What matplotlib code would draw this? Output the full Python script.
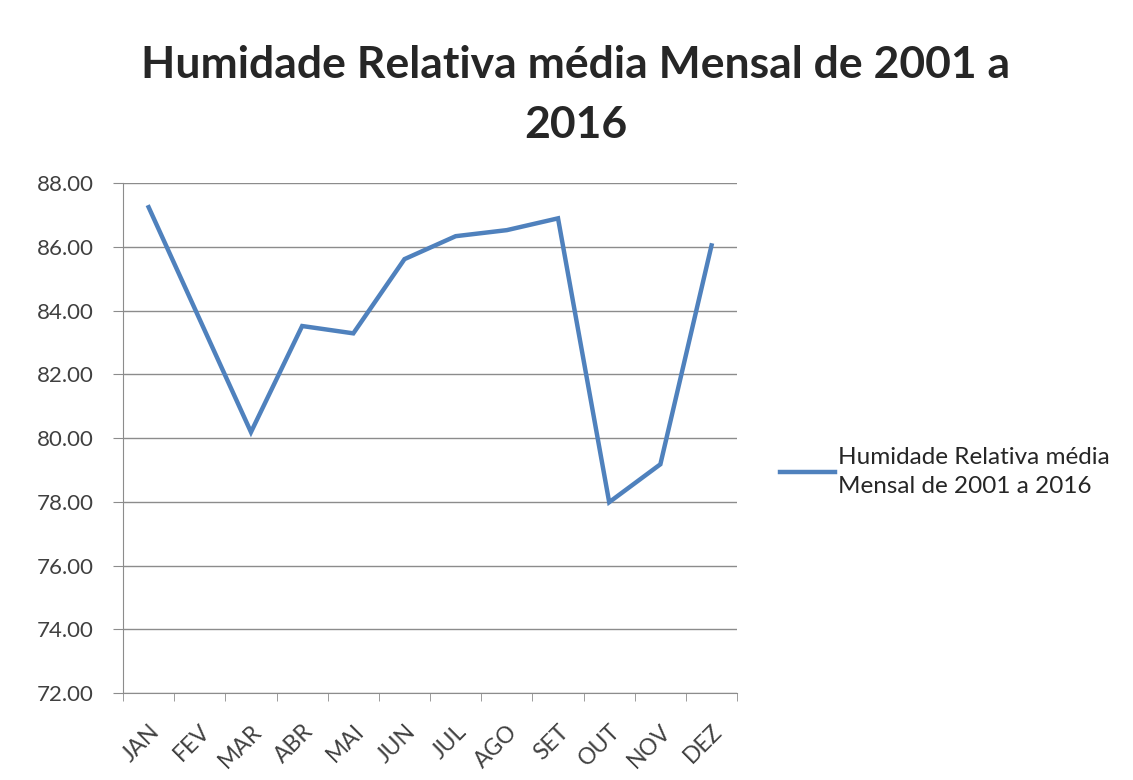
import matplotlib.pyplot as plt
import numpy as np

plt.rcParams['font.family'] = ['Lato', 'DejaVu Sans']

# Data
months = ["JAN", "FEV", "MAR", "ABR", "MAI", "JUN", "JUL", "AGO", "SET", "OUT", "NOV", "DEZ"]
humidity = [87.25, 83.72, 80.19, 83.52, 83.29, 85.62, 86.34, 86.53, 86.90, 77.99, 79.18, 86.05]
series_name = "Humidade Relativa média\nMensal de 2001 a 2016"
title = "Humidade Relativa média Mensal de 2001 a\n2016"

fig = plt.figure(figsize=(11.33, 7.8), dpi=100)
ax = fig.add_axes([0.1086, 0.1115, 0.542, 0.6535])

x = np.arange(len(months))
ax.plot(x, humidity, color="#4F81BD", linewidth=3.2, solid_joinstyle="miter",
        label=series_name)

ax.set_ylim(72, 88)
ax.set_yticks(np.arange(72, 88.1, 2))
ax.yaxis.set_major_formatter(plt.FormatStrFormatter("%.2f"))
ax.grid(axis="y", color="#8c8c8c", linewidth=1.0)
ax.set_axisbelow(True)

ax.set_xlim(-0.5, len(months) - 0.5)
ax.set_xticks(x)
ax.set_xticklabels(months, rotation=45, ha="right", rotation_mode="anchor")
ax.set_xticks(np.arange(-0.5, len(months)), minor=True)
ax.tick_params(axis="x", which="major", length=0, pad=20, labelsize=16.5)
ax.tick_params(axis="x", which="minor", length=6, direction="out", color="#8c8c8c")
ax.tick_params(axis="y", length=7, color="#8c8c8c", pad=14, labelsize=16)
ax.tick_params(labelcolor="#404040")

for s in ["top", "right"]:
    ax.spines[s].set_visible(False)
for s in ["left", "bottom"]:
    ax.spines[s].set_color("#8c8c8c")

fig.suptitle(title, x=0.508, y=0.942, fontsize=32, fontweight="bold",
             color="#262626", linespacing=1.6)

leg = fig.legend(loc="center left", bbox_to_anchor=(0.6695, 0.395), frameon=False,
                 fontsize=17.5, handlelength=2.25, handletextpad=0.1,
                 labelcolor="#262626")
for t in leg.get_texts():
    t.set_linespacing(1.5)

fig.savefig("out.png", dpi=100)
